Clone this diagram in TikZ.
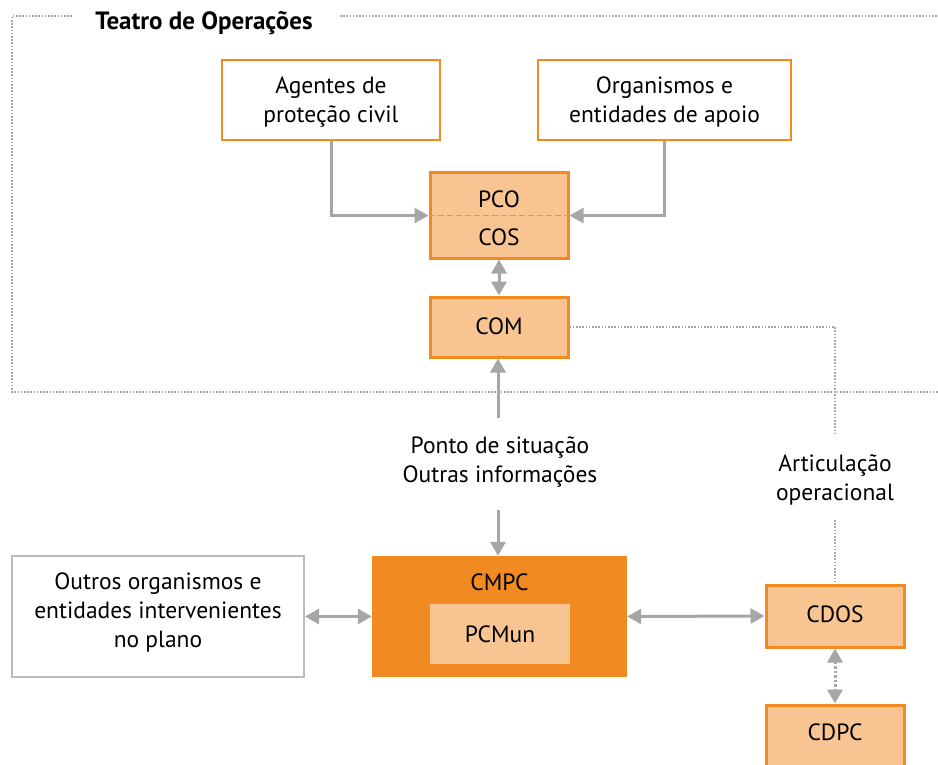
\documentclass[tikz,border=0pt]{standalone}
\usepackage{fontspec}
\setmainfont{PT Sans}
\usetikzlibrary{arrows.meta}
\definecolor{orD}{HTML}{F28A22}
\definecolor{orL}{HTML}{F8C491}
\definecolor{gr}{HTML}{A6A6A6}
\definecolor{grB}{HTML}{BBBBBB}
\tikzset{
  txt/.style={font=\fontsize{23.5}{29}\selectfont, align=center, inner sep=0pt},
  wbox/.style={draw=orD, line width=2pt, fill=white, txt},
  obox/.style={draw=orD, line width=3pt, fill=orL, txt},
  gbox/.style={draw=grB, line width=2pt, fill=white, txt},
  arr/.style={draw=gr, line width=3pt, -{Triangle[length=14pt,width=15pt]}},
  darr/.style={draw=gr, line width=3pt, {Triangle[length=14pt,width=15pt]}-{Triangle[length=14pt,width=15pt]}},
  dots/.style={draw=gr, line width=1.6pt, dash pattern=on 1.6pt off 1.6pt},
}
\begin{document}
\begin{tikzpicture}[x=1pt,y=-1pt]
\useasboundingbox (0,0) rectangle (938,765);
% frame
\draw[dots] (72,16) -- (12,16) -- (12,392) -- (938,392);
\draw[dots] (340,16) -- (938,16);
\node[txt, font=\fontsize{25}{29}\selectfont\bfseries] (title) at (204,23) {Teatro de Operações};
% nodes
\node[wbox, minimum width=218pt, minimum height=80pt, text depth=0pt] (ag) at (331,100) {};
\node[txt] (agt) at (331,102) {Agentes de\\proteção civil};
\node[wbox, minimum width=253pt, minimum height=80pt] (org) at (664.5,100) {};
\node[txt] (orgt) at (664.5,102) {Organismos e\\entidades de apoio};
\node[obox, minimum width=138pt, minimum height=85pt] (pco) at (499,215.5) {};
\node[txt] (pcot) at (499,199) {PCO};
\node[txt] (cost) at (499,237) {COS};
\node[obox, minimum width=138pt, minimum height=60pt] (com) at (499,327) {};
\node[txt] (comt) at (499,326) {COM};
\node[txt] (ponto) at (500,462) {Ponto de situação\\Outras informações};
\node[txt] (artic) at (835,480) {Articulação\\operacional};
\node[draw=none, fill=orD, minimum width=255pt, minimum height=121pt] (cmpc) at (499.5,616.5) {};
\node[txt] (cmpct) at (499.5,582) {CMPC};
\node[fill=orL, minimum width=140pt, minimum height=60pt] (pcmun) at (500,634) {};
\node[txt] (pcmunt) at (500,634) {PCMun};
\node[gbox, minimum width=292pt, minimum height=121pt] (outros) at (158,616.5) {};
\node[txt] (outrost) at (158,612) {Outros organismos e\\entidades intervenientes\\no plano};
\node[obox, minimum width=138pt, minimum height=62pt] (cdos) at (835,616) {};
\node[txt] (cdost) at (835,614) {CDOS};
\node[obox, minimum width=138pt, minimum height=68pt] (cdpc) at (835,739) {};
\node[txt] (cdpct) at (835,732) {CDPC};
% connectors
\draw[draw=gr, line width=1.6pt, dash pattern=on 6pt off 3pt] (pco.west) -- (pco.east);
\draw[arr] (ag.south) |- (pco.west);
\draw[arr] (org.south) |- (pco.east);
\draw[darr] (pco.south) -- (com.north);
\coordinate (p1) at (498,418);
\draw[arr] (p1) -- (com.south -| p1);
\coordinate (p2) at (498,510);
\draw[arr] (p2) -- (cmpc.north -| p2);
\coordinate (a2) at (835,435);
\coordinate (a3) at (835,520);
\draw[dots] (com.east) -| (a2);
\draw[dots] (a3) -- (cdos.north);
\draw[darr] (outros.east) -- (cmpc.west);
\draw[darr] (cmpc.east) -- (cdos.west);
\draw[darr, dash pattern=on 2.5pt off 2pt] (cdos.south) -- (cdpc.north);
\end{tikzpicture}
\end{document}
